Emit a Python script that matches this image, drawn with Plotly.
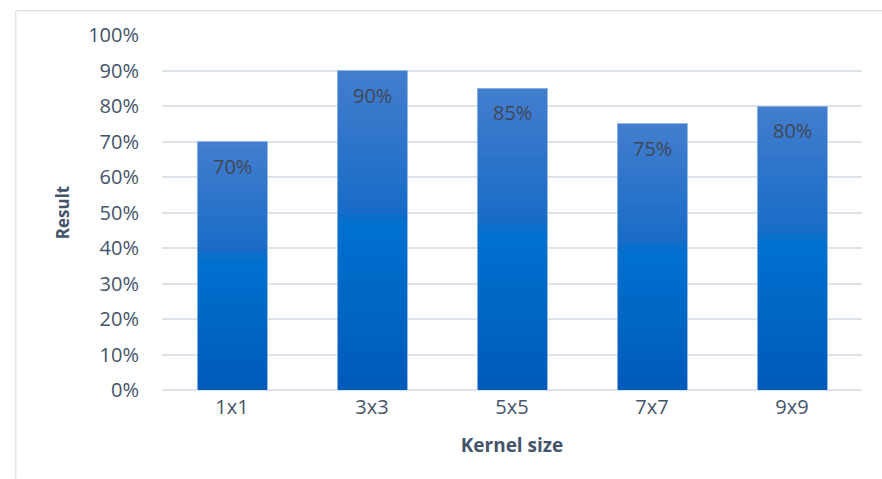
import plotly.graph_objects as go

# Accuracy per convolution kernel size
kernel_sizes = ["1x1", "3x3", "5x5", "7x7", "9x9"]
results = [0.70, 0.90, 0.85, 0.75, 0.80]
y_ticks = [0.0, 0.1, 0.2, 0.3, 0.4, 0.5, 0.6, 0.7, 0.8, 0.9, 1.0]
y_tick_labels = ["0%", "10%", "20%", "30%", "40%", "50%", "60%", "70%", "80%", "90%", "100%"]

# Vertical gradient stops (fraction of bar height -> RGB), dark at base, lighter at top
stops = [
    (0.00, (0, 90, 186)),
    (0.45, (0, 110, 204)),
    (0.52, (0, 112, 206)),
    (0.56, (24, 108, 200)),
    (1.00, (68, 126, 205)),
]


def grad(t):
    for (t0, c0), (t1, c1) in zip(stops[:-1], stops[1:]):
        if t0 <= t <= t1:
            f = (t - t0) / (t1 - t0) if t1 > t0 else 0
            return "rgb(%d,%d,%d)" % tuple(round(a + (b - a) * f) for a, b in zip(c0, c1))
    return "rgb(%d,%d,%d)" % stops[-1][1]


N_SEG = 40
fig = go.Figure()
for k in range(N_SEG):
    fig.add_trace(go.Bar(
        x=kernel_sizes,
        y=[v / N_SEG for v in results],
        marker=dict(color=grad((k + 0.5) / N_SEG), line=dict(width=0)),
        showlegend=False,
        hoverinfo="skip",
    ))

# Thin light outline around each full bar, drawn on an overlaid twin axis
fig.add_trace(go.Bar(
    x=kernel_sizes, y=results, xaxis="x2",
    marker=dict(color="rgba(0,0,0,0)", line=dict(color="rgba(140,180,228,0.9)", width=1)),
    showlegend=False,
    hovertemplate="%{x}: %{y:.0%}<extra></extra>",
))

# Value labels just inside the top of each bar
for cat, v in zip(kernel_sizes, results):
    fig.add_annotation(
        x=cat, y=v, text=f"{round(v * 100)}%", showarrow=False,
        yanchor="top", yshift=-9,
        font=dict(family="Open Sans", size=20, color="#404855"),
    )

# Chart frame (left and top edges)
fig.add_shape(type="line", xref="paper", yref="paper",
              x0=-0.209, x1=-0.209, y0=-0.25, y1=1.068,
              line=dict(color="#DCE4EC", width=1.5))
fig.add_shape(type="line", xref="paper", yref="paper",
              x0=-0.209, x1=1.05, y0=1.068, y1=1.068,
              line=dict(color="#DCE4EC", width=1.5))

fig.update_layout(
    width=882, height=479,
    margin=dict(l=162, r=20, t=35, b=89),
    paper_bgcolor="white", plot_bgcolor="white",
    barmode="stack", bargap=0.5,
    font=dict(family="Open Sans", color="#44546A", size=19),
    xaxis=dict(
        showgrid=False, showline=False, zeroline=False,
        tickfont=dict(size=20, color="#44546A"),
        ticklabelstandoff=3,
        title=dict(text="<b>Kernel size</b>", font=dict(size=19, color="#44546A"), standoff=19),
    ),
    xaxis2=dict(matches="x", overlaying="x", visible=False),
    yaxis=dict(
        range=[0, 1.0], tickvals=y_ticks, ticktext=y_tick_labels,
        showgrid=True, gridcolor="#DCE3EB", gridwidth=1.5,
        zeroline=True, zerolinecolor="#DCE3EB", zerolinewidth=1.5,
        showline=False,
        tickfont=dict(size=20, color="#44546A"),
        ticklabelstandoff=22,
        title=dict(text="<b>Result</b>", font=dict(size=17, color="#44546A"), standoff=14),
    ),
)

fig.write_html("out.html")
